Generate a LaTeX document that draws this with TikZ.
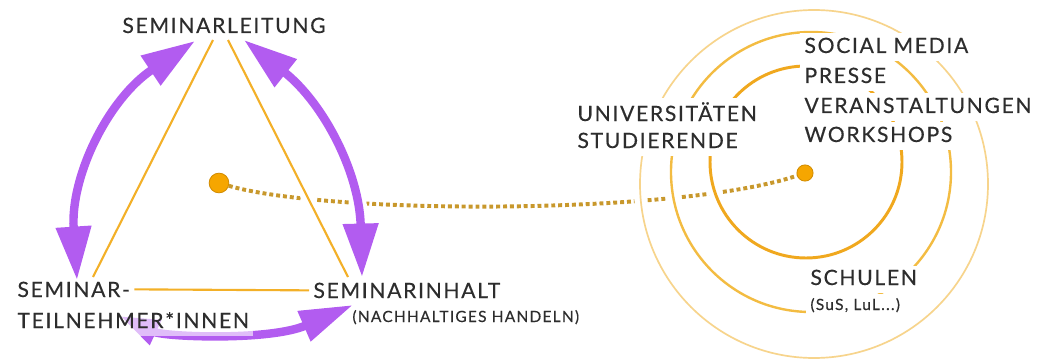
\documentclass[tikz,border=0pt]{standalone}
\usepackage{fontspec}
\newfontfamily\tagfont{Lato}[LetterSpace=8, FakeBold=0.4]
\usetikzlibrary{arrows.meta,calc}

\definecolor{inkgray}{RGB}{45,45,45}
\definecolor{arrowviolet}{RGB}{178,92,240}
\definecolor{edgegold}{RGB}{243,176,40}
\definecolor{ringinner}{RGB}{240,168,30}
\definecolor{ringmid}{RGB}{243,188,66}
\definecolor{ringouter}{RGB}{247,212,140}
\definecolor{hubgold}{RGB}{246,166,0}
\definecolor{hubrim}{RGB}{210,140,0}
\definecolor{dotgold}{RGB}{200,152,44}

\pgfdeclarelayer{back}
\pgfsetlayers{back,main}

\tikzset{
  rolelabel/.style={font=\tagfont\fontsize{15}{18}\selectfont, text=inkgray,
    inner sep=3pt, text depth=3pt},
  smalllabel/.style={rolelabel, font=\tagfont\fontsize{11}{13}\selectfont},
  masked/.style={fill=white},
  side/.style={draw=edgegold, line width=1.5pt},
  halo/.style={preaction={draw=white, line width=9pt}},
  orbit/.style={halo, line width=#1},
  exchange/.style={draw=arrowviolet, line width=6pt,
    {Triangle[length=38pt,width=24pt]}-{Triangle[length=38pt,width=24pt]}},
  hubdot/.style={circle, fill=hubgold, draw=hubrim, line width=0.6pt, inner sep=0pt},
  dotline/.style={draw=dotgold, line width=2.8pt, dash pattern=on 2.8pt off 2.1pt},
}

\begin{document}
\begin{tikzpicture}[x=0.025cm, y=0.025cm]
  \useasboundingbox (0,0) rectangle (1039,363);

  % triangle corners
  \node[rolelabel, anchor=base] (lead) at (224,330) {SEMINARLEITUNG};
  \node[rolelabel, anchor=base west] (part1) at (13,66) {SEMINAR-};
  \node[rolelabel, anchor=base west, fill=white, fill opacity=0.6, text opacity=1]
    (part2) at (13,35) {TEILNEHMER*INNEN};
  \node[rolelabel, anchor=base west] (content) at (309,65) {SEMINARINHALT};
  \node[smalllabel, anchor=base west] (contentsub) at (348,41) {(NACHHALTIGES HANDELN)};

  % rings
  \node[rolelabel, masked, anchor=base west] (uni) at (573,242) {UNIVERSITÄTEN};
  \node[rolelabel, masked, anchor=base west] (students) at (573,215) {STUDIERENDE};
  \node[rolelabel, masked, anchor=base west] (social) at (800,310) {SOCIAL MEDIA};
  \node[rolelabel, masked, anchor=base west] (press) at (800,280) {PRESSE};
  \node[rolelabel, masked, anchor=base west] (events) at (800,250) {VERANSTALTUNGEN};
  \node[rolelabel, masked, anchor=base west] (workshops) at (800,221) {WORKSHOPS};
  \node[rolelabel, masked, anchor=base west] (schools) at (806,78) {SCHULEN};
  \node[smalllabel, masked, anchor=base west] (schoolsub) at (806,53) {(SuS, LuL...)};

  \node[hubdot, minimum size=14pt] (hub) at (219,180) {};
  \node[hubdot, minimum size=11.5pt] (spot) at (805,190) {};

  \begin{pgfonlayer}{back}
    \draw[dotline] (hub) .. controls (330,148) and (680,148) .. (spot);

    \draw[orbit=1.2pt, ringouter] (814,179) circle[radius=174];
    \draw[orbit=1.7pt, ringmid] (811,191) circle[radius=140];
    \draw[orbit=2.1pt, ringinner] (806,201) circle[radius=96];

    \draw[side] ($(lead.base)+(-11,-7)$) -- ($(part1.base west)+(80,20)$);
    \draw[side, halo] ($(lead.base)+(4,-7)$) -- ($(content.base west)+(39,21)$);
    \draw[side] ([yshift=1.5pt]part1.east) -- ([yshift=1.5pt]content.west);

    \draw[exchange] ($(lead.base)+(-29,-8)$) to[bend right=30] ($(part1.base west)+(64,17)$);
    \draw[exchange, preaction={draw=white, line width=11pt, arrows=-, shorten <=40pt, shorten >=40pt}]
      ($(lead.base)+(20,-7)$) to[bend left=25] ($(content.base west)+(53,21)$);
    \draw[exchange, {Triangle[length=28pt,width=18pt]}-{Triangle[length=38pt,width=22pt]}]
      ($(part2.base west)+(107,12)$) .. controls (165,26) and (270,22)
      .. ($(contentsub.base west)+(5,17)$);
  \end{pgfonlayer}
\end{tikzpicture}
\end{document}
